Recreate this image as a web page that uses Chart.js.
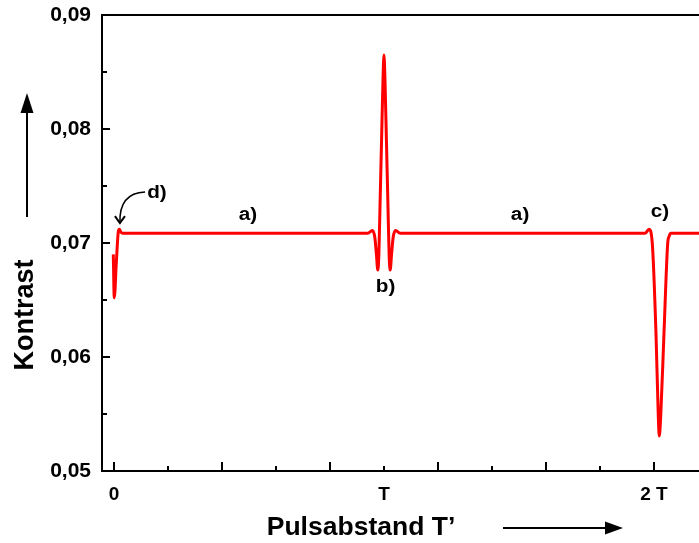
<!DOCTYPE html>
<html>
<head>
<meta charset="utf-8">
<script src="https://cdn.jsdelivr.net/npm/chart.js@4/dist/chart.umd.min.js"></script>
<style>
  html, body { margin: 0; padding: 0; background: #fff; }
  #wrap { width: 699px; height: 543px; }
</style>
</head>
<body>
<div id="wrap"><canvas id="chart" width="699" height="543"></canvas></div>
<script>
// pulse distance in units of T
var tPos = [-0.0026, 0.0011, 0.0085, 0.016, 0.0197, 0.026, 0.0345,
  0.940, 0.957, 0.966, 0.972, 0.977, 0.981, 0.986, 0.991, 0.996, 1.000,
  1.004, 1.009, 1.014, 1.019, 1.023, 1.028, 1.034, 1.043, 1.060,
  1.9667, 1.9815, 1.9937, 2.0074, 2.016, 2.0196, 2.0248, 2.037, 2.0507,
  2.0556, 2.063, 2.17];
var contrast = [0.0690, 0.0652, 0.0682, 0.0710, 0.0712, 0.07095, 0.07085,
  0.07085, 0.07110, 0.07050, 0.06900, 0.06763, 0.06900, 0.07400, 0.07900, 0.08400, 0.08650,
  0.08400, 0.07900, 0.07400, 0.06900, 0.06763, 0.06900, 0.07050, 0.07110, 0.07085,
  0.07085, 0.07120, 0.06997, 0.06208, 0.05476, 0.05307, 0.05476, 0.06208, 0.06997,
  0.07056, 0.07085, 0.07085];

var xLabelTicks = [0, 1, 2];
var xLabelText = ["0", "T", "2 T"];
var xMajor = [0, 0.4, 0.8, 1.2, 1.6, 2.0];
var xMinor = [0.2, 0.6, 1.0, 1.4, 1.8];
var yMajor = [0.05, 0.06, 0.07, 0.08, 0.09];
var yMinor = [0.055, 0.065, 0.075, 0.085];

// annotation letters (data coords)
var noteText = ["a)", "a)", "b)", "c)", "d)"];
var noteX = [0.496, 1.504, 1.006, 2.022, 0.159];
var noteY = [0.07245, 0.07245, 0.06610, 0.07272, 0.07439];

var FONT = "'Liberation Sans', Arial, Helvetica, sans-serif";

var points = tPos.map(function (t, i) { return { x: t, y: contrast[i] }; });

function wideText(ctx, s, x, y, sx) {
  ctx.save();
  ctx.translate(x, y);
  ctx.scale(sx, 1);
  ctx.fillText(s, 0, 0);
  ctx.restore();
}

var framePlugin = {
  id: "frame",
  afterDraw: function (chart) {
    var ctx = chart.ctx;
    var a = chart.chartArea;
    var xs = chart.scales.x, ys = chart.scales.y;
    ctx.save();
    ctx.strokeStyle = "#000";
    ctx.lineWidth = 2;
    ctx.beginPath();
    ctx.moveTo(a.right, a.top);
    ctx.lineTo(a.left, a.top);
    ctx.lineTo(a.left, a.bottom);
    ctx.lineTo(a.right, a.bottom);
    ctx.stroke();

    ctx.beginPath();
    xMajor.forEach(function (v) {
      var px = xs.getPixelForValue(v);
      ctx.moveTo(px, a.bottom); ctx.lineTo(px, a.bottom - 9);
    });
    xMinor.forEach(function (v) {
      var px = xs.getPixelForValue(v);
      ctx.moveTo(px, a.bottom); ctx.lineTo(px, a.bottom - 5);
    });
    yMajor.forEach(function (v) {
      var py = ys.getPixelForValue(v);
      ctx.moveTo(a.left, py); ctx.lineTo(a.left + 8, py);
    });
    yMinor.forEach(function (v) {
      var py = ys.getPixelForValue(v);
      ctx.moveTo(a.left, py); ctx.lineTo(a.left + 5, py);
    });
    ctx.stroke();

    // letters
    ctx.fillStyle = "#000";
    ctx.font = "bold 18px " + FONT;
    ctx.textAlign = "center";
    ctx.textBaseline = "middle";
    noteText.forEach(function (s, i) {
      wideText(ctx, s, xs.getPixelForValue(noteX[i]), ys.getPixelForValue(noteY[i]), 1.15);
    });

    // curved arrow for d)
    var sx = xs.getPixelForValue(0.115), sy = ys.getPixelForValue(0.07447);
    var tx = xs.getPixelForValue(0.022), ty = ys.getPixelForValue(0.07175);
    ctx.lineWidth = 1.5;
    ctx.beginPath();
    ctx.moveTo(sx, sy);
    ctx.quadraticCurveTo(tx - 1, sy + 1, tx, ty);
    ctx.stroke();
    ctx.lineWidth = 2;
    ctx.beginPath();
    ctx.moveTo(tx - 5, ty - 7);
    ctx.lineTo(tx, ty);
    ctx.lineTo(tx + 5, ty - 7);
    ctx.stroke();

    // axis titles with arrows
    ctx.font = "bold 27px " + FONT;
    ctx.save();
    ctx.translate(26, 315);
    ctx.rotate(-Math.PI / 2);
    ctx.fillText("Kontrast", 0, 0);
    ctx.restore();

    ctx.lineWidth = 2;
    ctx.beginPath();
    ctx.moveTo(27, 217); ctx.lineTo(27, 108);
    ctx.stroke();
    ctx.beginPath();
    ctx.moveTo(27, 93); ctx.lineTo(20.5, 113); ctx.lineTo(33.5, 113);
    ctx.closePath(); ctx.fill();

    ctx.font = "bold 25px " + FONT;
    wideText(ctx, "Pulsabstand T\u2019", 361, 528, 1.06);
    ctx.beginPath();
    ctx.moveTo(503, 528); ctx.lineTo(608, 528);
    ctx.stroke();
    ctx.beginPath();
    ctx.moveTo(623, 528); ctx.lineTo(605, 521.5); ctx.lineTo(605, 534.5);
    ctx.closePath(); ctx.fill();
    ctx.restore();
  }
};

new Chart(document.getElementById("chart"), {
  type: "line",
  data: {
    datasets: [{
      data: points,
      borderColor: "#ff0000",
      borderWidth: 3,
      pointRadius: 0,
      fill: false,
      cubicInterpolationMode: "monotone"
    }]
  },
  options: {
    responsive: false,
    animation: false,
    layout: { padding: { top: 15, right: 0, left: 0, bottom: 0 } },
    plugins: { legend: { display: false }, tooltip: { enabled: false } },
    scales: {
      x: {
        type: "linear",
        min: -0.0444,
        max: 2.1667,
        grid: { display: false, drawTicks: false },
        border: { display: false },
        afterBuildTicks: function (s) {
          s.ticks = xLabelTicks.map(function (v) { return { value: v }; });
        },
        afterFit: function (s) { s.height = 72; s.paddingLeft = 0; s.paddingRight = 0; },
        ticks: {
          padding: 12,
          maxRotation: 0,
          autoSkip: false,
          color: "#000",
          font: { family: FONT, size: 19, weight: "bold" },
          callback: function (v) {
            var i = xLabelTicks.indexOf(v);
            return i >= 0 ? xLabelText[i] : "";
          }
        }
      },
      y: {
        min: 0.05,
        max: 0.09,
        grid: { display: false, drawTicks: false },
        border: { display: false },
        afterBuildTicks: function (s) {
          s.ticks = yMajor.map(function (v) { return { value: v }; });
        },
        afterFit: function (s) { s.width = 102; s.paddingTop = 0; s.paddingBottom = 0; },
        ticks: {
          padding: 11,
          color: "#000",
          font: { family: FONT, size: 21, weight: "bold" },
          callback: function (v) { return v.toFixed(2).replace(".", ","); }
        }
      }
    }
  },
  plugins: [framePlugin]
});
</script>
</body>
</html>
